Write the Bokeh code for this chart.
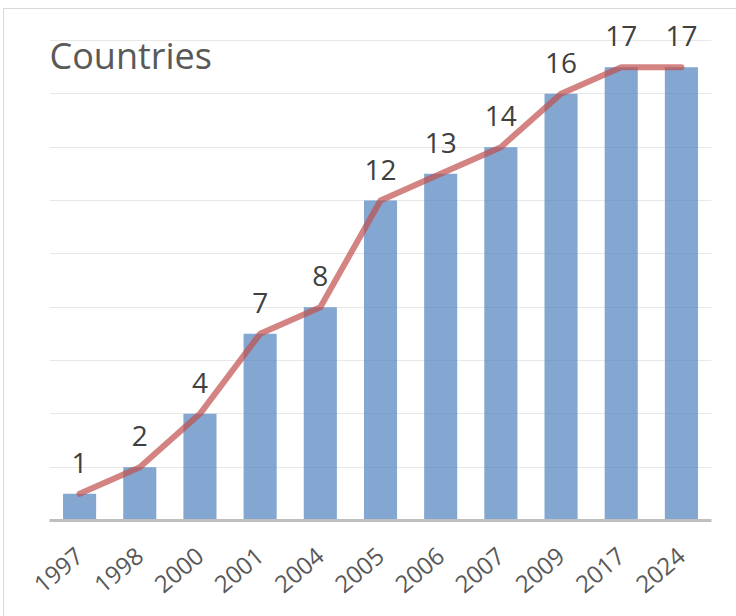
from bokeh.plotting import figure
from bokeh.models import ColumnDataSource, FixedTicker, Label, LabelSet
from bokeh.core.properties import value
from bokeh.embed import file_html
from bokeh.resources import INLINE
import math

years = ["1997", "1998", "2000", "2001", "2004", "2005", "2006", "2007", "2009", "2017", "2024"]
countries = [1, 2, 4, 7, 8, 12, 13, 14, 16, 17, 17]
labels = [str(v) for v in countries]
grid_ticks = [2, 4, 6, 8, 10, 12, 14, 16, 18]

src = ColumnDataSource(dict(x=years, y=countries, lab=labels))

p = figure(x_range=years, y_range=(0, 19.05), width=733, height=608,
           output_backend="svg", toolbar_location=None,
           min_border_left=45, min_border_right=26, min_border_top=3, min_border_bottom=97)
p.outline_line_color = None
p.styles = {"margin-left": "3px", "margin-top": "8px",
            "border-top": "1px solid #d9d9d9", "border-left": "1px solid #d9d9d9"}

p.vbar(x="x", top="y", width=0.55, bottom=0, source=src,
       fill_color="#4f81bd", fill_alpha=0.7, line_color=None)
p.line(x="x", y="y", source=src, line_color="#c0504d", line_alpha=0.7,
       line_width=6, line_cap="round", line_join="round")
p.add_layout(LabelSet(x="x", y="y", text="lab", source=src, text_align="center",
                      text_baseline="alphabetic", y_offset=21, text_font=value("Open Sans"),
                      text_font_size="28px", text_color="#404040"))

p.yaxis.visible = False
p.ygrid.ticker = FixedTicker(ticks=grid_ticks)
p.ygrid.grid_line_color = "#e8e8e8"
p.ygrid.grid_line_width = 1
p.xgrid.grid_line_color = None

ax = p.xaxis[0]
ax.axis_line_color = "#bfbfbf"
ax.axis_line_width = 3
ax.major_tick_line_color = None
ax.minor_tick_line_color = None
ax.major_label_orientation = 0.70
ax.major_label_text_font = "Open Sans"
ax.major_label_text_font_size = "24px"
ax.major_label_text_color = "#595959"
ax.major_label_standoff = 26

title = Label(x=0.0, y=17.44, text="Countries", text_font="Open Sans",
              text_font_size="36px", text_color="#595959", text_baseline="alphabetic")
p.add_layout(title)

open("out.html", "w").write(file_html(p, INLINE))
